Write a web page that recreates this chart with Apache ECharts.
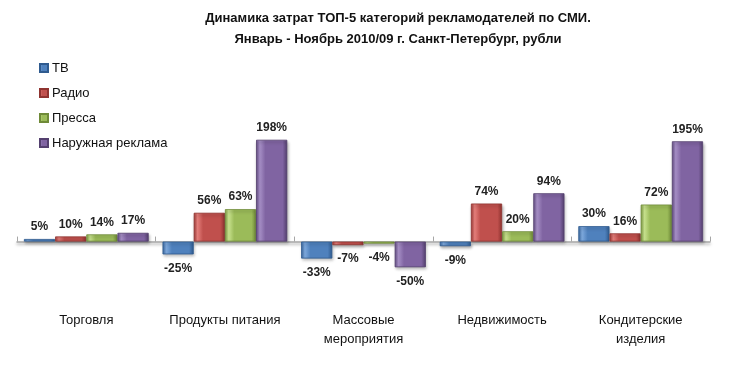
<!DOCTYPE html>
<html><head><meta charset="utf-8">
<script src="https://cdn.jsdelivr.net/npm/echarts@6/dist/echarts.min.js"></script>
<style>html,body{margin:0;padding:0;background:#fff}#c{width:749px;height:368px}</style>
</head><body><div id="c"></div>
<script>
const categories = ['Торговля', 'Продукты питания', 'Массовые\nмероприятия', 'Недвижимость', 'Кондитерские\nизделия'];
const seriesNames = ['ТВ', 'Радио', 'Пресса', 'Наружная реклама'];
const tv = [5, -25, -33, -9, 30];
const radio = [10, 56, -7, 74, 16];
const press = [14, 63, -4, 20, 72];
const outdoor = [17, 198, -50, 94, 195];
const values = [tv, radio, press, outdoor];
const palette = [
  ['#3a6aa5', '#7ea9dd', '#4f81bd', '#2f5b8f'],
  ['#a53b38', '#e57f7b', '#c0504d', '#8f3330'],
  ['#82a043', '#c8e28e', '#9bbb59', '#6f8a38'],
  ['#68508a', '#a68fc6', '#8064a2', '#54406f']
];
const font = 'Liberation Sans, Arial, sans-serif';
function grad(p) {
  return new echarts.graphic.LinearGradient(0, 0, 1, 0, [
    {offset: 0, color: p[0]}, {offset: 0.12, color: p[1]}, {offset: 0.3, color: p[2]},
    {offset: 0.85, color: p[2]}, {offset: 1, color: p[3]}
  ]);
}
const chart = echarts.init(document.getElementById('c'));
chart.setOption({
  animation: false,
  title: {
    text: 'Динамика затрат ТОП-5 категорий рекламодателей по СМИ.\nЯнварь - Ноябрь 2010/09 г. Санкт-Петербург, рубли',
    left: 393, top: 3, textAlign: 'center',
    textStyle: {fontFamily: font, fontSize: 13, fontWeight: 'bold', color: '#111', lineHeight: 21}
  },
  legend: {
    orient: 'vertical', left: 34, top: 56, itemWidth: 8, itemHeight: 8, itemGap: 11,
    icon: 'rect',
    data: seriesNames,
    textStyle: {fontFamily: font, fontSize: 13, color: '#111', lineHeight: 14, padding: [0, 0, 0, -1]}
  },
  grid: {left: 17, right: 39, top: 113, bottom: 75, containLabel: false},
  xAxis: [{
    type: 'category', data: categories, position: 'bottom',
    axisLine: {show: false, onZero: false}, axisTick: {show: false},
    axisLabel: {fontFamily: font, fontSize: 13, color: '#111', margin: 18, lineHeight: 19, interval: 0}
  }, {
    type: 'category', data: categories,
    axisLine: {show: true, onZero: true, lineStyle: {color: '#a6a6a6', width: 1.5, shadowColor: 'rgba(0,0,0,0.35)', shadowBlur: 3, shadowOffsetY: 2}},
    axisTick: {show: true, inside: false, length: 5, lineStyle: {color: '#a6a6a6'}},
    axisLabel: {show: false}
  }],
  yAxis: {type: 'value', min: -100, max: 250, show: false, splitLine: {show: false}},
  series: values.map((v, i) => ({
    name: seriesNames[i], type: 'bar', xAxisIndex: 0,
    barGap: '0%', barCategoryGap: '10%',
    itemStyle: {color: grad(palette[i]), borderColor: palette[i][3], borderWidth: 0.8,
      shadowColor: 'rgba(0,0,0,0.3)', shadowBlur: 3, shadowOffsetX: 1, shadowOffsetY: 2},
    label: {
      show: true, fontFamily: font, fontSize: 12, fontWeight: 'bold', color: '#222',
      position: 'top', distance: 6,
      formatter: p => p.value + '%'
    },
    data: v.map(val => val < 0 ? {value: val, label: {position: 'bottom', distance: 8}} : val)
  }))
});
</script>
</body></html>
